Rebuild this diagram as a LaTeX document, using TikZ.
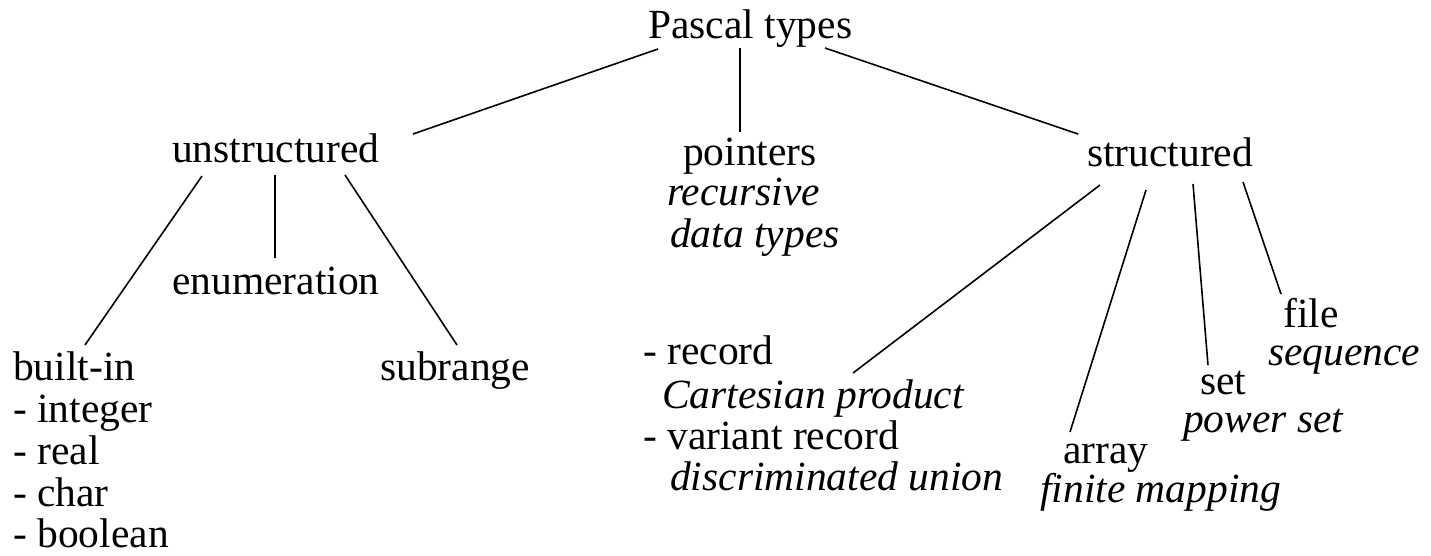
\documentclass[tikz,border=0pt]{standalone}
\usepackage{fontspec}
\setmainfont{Liberation Serif}

\tikzstyle{word} = [inner sep=0pt, anchor=base west,
    font=\fontsize{41.5}{42}\selectfont]
\tikzstyle{gloss} = [word, font=\fontsize{41.5}{42}\selectfont\itshape]
\tikzstyle{branch} = [draw=black, line width=1.6pt]

\begin{document}
\begin{tikzpicture}[x=1pt, y=-1pt]
    \useasboundingbox (0,0) rectangle (1431,555);
%------------ Wurzel ---------------------
    \node [word] (pascal) at (648,38) {Pascal types};
%------------ zweite Ebene ---------------------
    \node [word] (unstr) at (172,162) {unstructured};
    \node [word] (pointers) at (683,165) {pointers};
    \node [gloss] (recursive) at (667,205) {recursive};
    \node [gloss] (datatypes) at (670,247) {data types};
    \node [word] (struct) at (1087,166) {structured};
%------------ unstructured ---------------------
    \node [word] (builtin) at (13,380) {built-in};
    \node [word] (integer) at (13,422) {- integer};
    \node [word] (real) at (13,464) {- real};
    \node [word] (char) at (13,506) {- char};
    \node [word] (boolean) at (13,547) {- boolean};
    \node [word] (enum) at (172,294) {enumeration};
    \node [word] (subrange) at (380,380) {subrange};
%------------ structured ---------------------
    \node [word] (record) at (643,364) {- record};
    \node [gloss] (cartesian) at (662,408) {Cartesian product};
    \node [word] (variant) at (643,449) {- variant record};
    \node [gloss] (discr) at (670,490) {discriminated union};
    \node [word] (array) at (1063,463) {array};
    \node [gloss] (finmap) at (1040,502) {finite mapping};
    \node [word] (set) at (1200,394) {set};
    \node [gloss] (powerset) at (1183,432) {power set};
    \node [word] (file) at (1283,327) {file};
    \node [gloss] (sequence) at (1268,365) {sequence};
%------------ Verbindungen ---------------------
    \draw [branch] ([shift={(10,11)}]pascal.base west) -- ([shift={(241,-28)}]unstr.base west);
    \draw [branch] ([shift={(92,10)}]pascal.base west) -- ([shift={(57,-33)}]pointers.base west);
    \draw [branch] ([shift={(177,10)}]pascal.base west) -- ([shift={(-9,-32)}]struct.base west);
    \draw [branch] ([shift={(30,14)}]unstr.base west) -- ([shift={(72,-35)}]builtin.base west);
    \draw [branch] ([shift={(103,13)}]unstr.base west) -- ([shift={(103,-36)}]enum.base west);
    \draw [branch] ([shift={(173,13)}]unstr.base west) -- ([shift={(77,-35)}]subrange.base west);
    \draw [branch] ([shift={(13,19)}]struct.base west) -- ([shift={(210,9)}]record.base west);
    \draw [branch] ([shift={(59,24)}]struct.base west) -- ([shift={(7,-31)}]array.base west);
    \draw [branch] ([shift={(106,18)}]struct.base west) -- ([shift={(8,-29)}]set.base west);
    \draw [branch] ([shift={(156,16)}]struct.base west) -- ([shift={(-2,-33)}]file.base west);
\end{tikzpicture}
\end{document}
